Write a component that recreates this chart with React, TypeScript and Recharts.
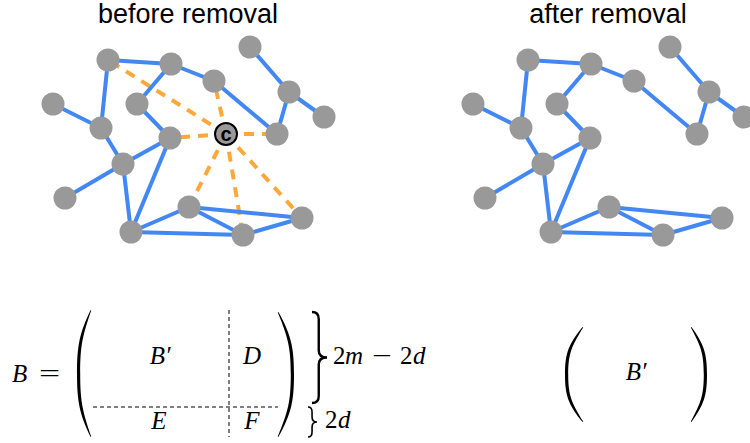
import React from "react";
import { ScatterChart, Scatter, XAxis, YAxis, Customized } from "recharts";

// graph layout (node centres)
const NODE_X = [108, 171, 214, 250, 289, 324, 277, 53, 137, 101, 170, 123, 65, 189, 131, 243, 302];
const NODE_Y = [60, 64, 81, 47, 92, 117, 134, 104, 104, 128, 138, 164, 198, 207, 232, 235, 218];
const HUB = { x: 226, y: 134 };

// blue edges, by node index
const EDGES: [number, number][] = [
  [0, 1], [0, 9], [1, 8], [1, 2], [2, 6], [3, 4], [4, 5], [4, 6], [7, 9], [8, 10],
  [9, 11], [10, 11], [10, 14], [11, 12], [11, 14], [14, 13], [14, 15], [13, 15], [13, 16], [15, 16],
];
// dashed links from the removed node "c"
const HUB_LINKS = [0, 2, 6, 10, 13, 15, 16];

const TITLES = ["before removal", "after removal"];

const PANEL_SHIFT = 420;
const W = 750;
const H = 443;

const BLUE = "#4287f2";
const ORANGE = "#ffa83a";
const GREY = "#999999";

const nodes = NODE_X.map((x, i) => ({ x, y: NODE_Y[i] }));
const afterNodes = nodes.map((n) => ({ x: n.x + PANEL_SHIFT, y: n.y }));

const NoDot = () => <g />;

const NodeDot = (props: any) => <circle cx={props.cx} cy={props.cy} r={11.5} fill={GREY} />;

const HubDot = (props: any) => (
  <g>
    <circle cx={props.cx} cy={props.cy} r={11} fill={GREY} stroke="#000" strokeWidth={2} />
    <text
      x={props.cx}
      y={props.cy + 6.5}
      textAnchor="middle"
      fontFamily="Liberation Sans, Arial, sans-serif"
      fontWeight={700}
      fontSize={20}
      fill="#000"
    >
      c
    </text>
  </g>
);

// crescent shaped bracket; dir = 1 opens right, -1 opens left
function paren(tipX: number, top: number, bot: number, bulge: number, dir: number) {
  const mid = (top + bot) / 2;
  const h = bot - top;
  const o = tipX - dir * bulge;
  const ib = bulge - 3.2;
  const i = tipX - dir * ib;
  return (
    `M${tipX + dir * 0.6},${top} C${tipX - dir * bulge * 0.8},${top + h * 0.18} ${o},${mid - h * 0.22} ${o},${mid} ` +
    `C${o},${mid + h * 0.22} ${tipX - dir * bulge * 0.8},${bot - h * 0.18} ${tipX + dir * 0.6},${bot} ` +
    `L${tipX + dir * 1.2},${bot - 0.5} ` +
    `C${tipX - dir * ib * 0.75},${bot - h * 0.2} ${i},${mid + h * 0.22} ${i},${mid} ` +
    `C${i},${mid - h * 0.22} ${tipX - dir * ib * 0.75},${top + h * 0.2} ${tipX + dir * 1.2},${top + 0.5} Z`
  );
}

function brace(x: number, top: number, bot: number, w: number) {
  const mid = (top + bot) / 2;
  const s = x + w * 0.45;
  const r = Math.min(7, (bot - top) / 6);
  return (
    `M${x},${top} Q${s},${top} ${s},${top + r} L${s},${mid - r} Q${s},${mid} ${x + w},${mid} ` +
    `Q${s},${mid} ${s},${mid + r} L${s},${bot - r} Q${s},${bot} ${x},${bot}`
  );
}

const serif = { fontFamily: "'Liberation Serif', 'Times New Roman', serif", fontSize: 25 };
const ital = { ...serif, fontStyle: "italic" as const };

const Overlay = () => (
  <g fill="#000">
    {TITLES.map((t, i) => (
      <text
        key={t}
        x={188 + i * PANEL_SHIFT}
        y={23}
        textAnchor="middle"
        style={{ fontFamily: "'Liberation Sans', Arial, sans-serif", fontSize: 27 }}
        fill="#000"
      >
        {t}
      </text>
    ))}

    {/* B = ( B' D ; E F ) */}
    <text x={12} y={382} style={ital}>B</text>
    <text transform="translate(39,382) scale(1.5,1)" style={serif}>=</text>
    <path d={paren(90, 310, 437, 13, 1)} fill="#000" />
    <path d={paren(279, 312, 437, 15, -1)} fill="#000" />
    <line x1={229} y1={310} x2={229} y2={437} stroke="#000" strokeWidth={1} strokeDasharray="4 3" />
    <line x1={93} y1={407} x2={278} y2={407} stroke="#000" strokeWidth={1} strokeDasharray="4 3" />
    <text x={160} y={364} textAnchor="middle" style={ital}>B′</text>
    <text x={252} y={364} textAnchor="middle" style={ital}>D</text>
    <text x={159} y={429} textAnchor="middle" style={ital}>E</text>
    <text x={252} y={429} textAnchor="middle" style={ital}>F</text>
    <path d={brace(312, 312, 403, 15)} fill="none" stroke="#000" strokeWidth={2.4} />
    <path d={brace(308, 407, 437, 9)} fill="none" stroke="#000" strokeWidth={1.6} />
    <text y={364} style={serif}>
      <tspan x={333}>2</tspan>
      <tspan x={345} style={ital}>m</tspan>
      <tspan x={400}>2</tspan>
      <tspan x={413} style={ital}>d</tspan>
    </text>
    <text transform="translate(372,364) scale(1.4,1)" style={serif}>−</text>
    <text y={428} style={serif}>
      <tspan x={325}>2</tspan>
      <tspan x={338} style={ital}>d</tspan>
    </text>

    {/* ( B' ) */}
    <path d={paren(582, 327, 422, 17, 1)} fill="#000" />
    <path d={paren(692, 327, 422, 15, -1)} fill="#000" />
    <text x={636} y={380} textAnchor="middle" style={ital}>B′</text>
  </g>
);

export default function App() {
  return (
    <div style={{ position: "absolute", left: 0, top: 0, width: W, height: H, background: "#fff" }}>
      <ScatterChart width={W} height={H} margin={{ top: 0, right: 0, bottom: 0, left: 0 }}>
        <XAxis type="number" dataKey="x" domain={[0, W]} hide allowDataOverflow />
        <YAxis type="number" dataKey="y" domain={[0, H]} reversed hide allowDataOverflow />

        {HUB_LINKS.map((n) => (
          <Scatter
            key={`hub-${n}`}
            data={[HUB, nodes[n]]}
            fill={ORANGE}
            line={{ stroke: ORANGE, strokeWidth: 4, strokeDasharray: "10 8" }}
            shape={NoDot}
            legendType="none"
            isAnimationActive={false}
          />
        ))}
        {EDGES.map(([a, b]) => (
          <Scatter
            key={`before-${a}-${b}`}
            data={[nodes[a], nodes[b]]}
            fill={BLUE}
            line={{ stroke: BLUE, strokeWidth: 4 }}
            shape={NoDot}
            legendType="none"
            isAnimationActive={false}
          />
        ))}
        {EDGES.map(([a, b]) => (
          <Scatter
            key={`after-${a}-${b}`}
            data={[afterNodes[a], afterNodes[b]]}
            fill={BLUE}
            line={{ stroke: BLUE, strokeWidth: 4 }}
            shape={NoDot}
            legendType="none"
            isAnimationActive={false}
          />
        ))}

        <Scatter data={nodes} fill={GREY} shape={NodeDot} isAnimationActive={false} />
        <Scatter data={afterNodes} fill={GREY} shape={NodeDot} isAnimationActive={false} />
        <Scatter data={[HUB]} fill={GREY} shape={HubDot} isAnimationActive={false} />

        <Customized component={Overlay} />
      </ScatterChart>
    </div>
  );
}
